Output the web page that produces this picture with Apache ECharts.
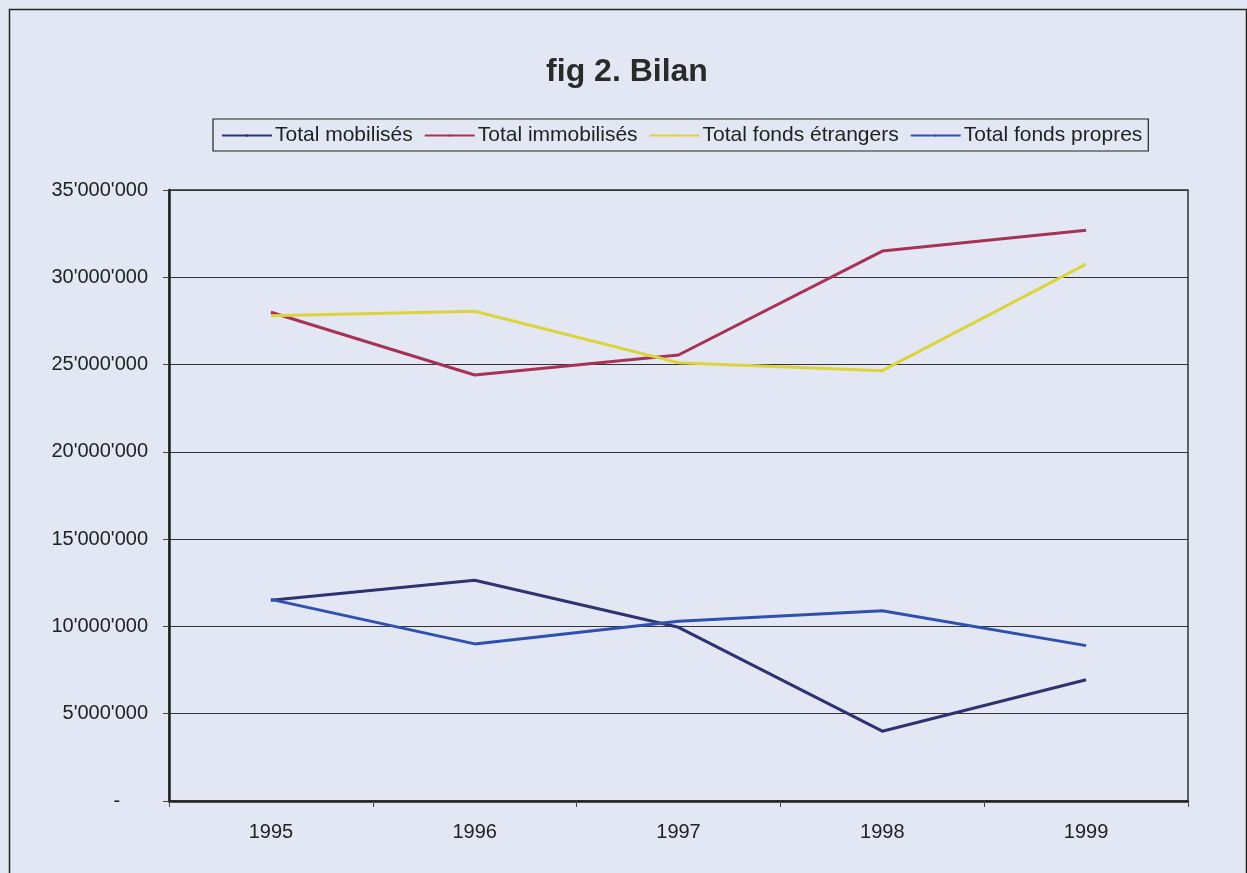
<!DOCTYPE html>
<html>
<head>
<meta charset="utf-8">
<script src="https://cdn.jsdelivr.net/npm/echarts@6/dist/echarts.min.js"></script>
<style>
html,body{margin:0;padding:0;background:#E3E7F3;}
#chart{width:1247px;height:873px;}
</style>
</head>
<body>
<div id="chart"></div>
<script>
var years = ['1995', '1996', '1997', '1998', '1999'];
var totalMobilises = [11500000, 12650000, 9950000, 4000000, 6950000];
var totalImmobilises = [28000000, 24400000, 25550000, 31500000, 32700000];
var totalFondsEtrangers = [27800000, 28050000, 25100000, 24650000, 30750000];
var totalFondsPropres = [11550000, 9000000, 10300000, 10900000, 8900000];
var seriesNames = ['Total mobilisés', 'Total immobilisés', 'Total fonds étrangers', 'Total fonds propres'];
var seriesColors = ['#2E3270', '#A83255', '#DCD43E', '#3050B0'];
var yTicks = { min: 0, max: 35000000, interval: 5000000 };

function fmt(v) {
  if (v === 0) return '-     ';
  return String(v).replace(/\B(?=(\d{3})+(?!\d))/g, "'");
}

var font = "'Liberation Sans', Arial, sans-serif";
var chart = echarts.init(document.getElementById('chart'));
var dataArr = [totalMobilises, totalImmobilises, totalFondsEtrangers, totalFondsPropres];

chart.setOption({
  backgroundColor: '#E3E7F3',
  animation: false,
  title: {
    text: 'fig 2. Bilan',
    left: 622, top: 51, textAlign: 'center',
    textStyle: { fontFamily: font, fontSize: 32, fontWeight: 'bold', color: '#2a2a2a' }
  },
  legend: {
    left: 213, top: 119,
    padding: [6, 6, 5, 8],
    borderColor: '#222', borderWidth: 1.2,
    itemWidth: 50, itemHeight: 3, itemGap: 11,
    textStyle: { fontFamily: font, fontSize: 21, color: '#222', padding: [0, 0, 0, -2] },
    data: seriesNames
  },
  grid: {
    left: 169, right: 59, top: 190, bottom: 72,
    show: true, borderColor: '#333', borderWidth: 1.5, backgroundColor: 'transparent'
  },
  xAxis: {
    type: 'category', data: years, boundaryGap: true,
    axisLine: { lineStyle: { color: '#222', width: 2.5 } },
    axisTick: { show: true, alignWithLabel: false, length: 6, lineStyle: { color: '#444', width: 1 } },
    axisLabel: { fontFamily: font, fontSize: 20, color: '#222', margin: 21 },
    splitLine: { show: false }
  },
  yAxis: {
    type: 'value', min: yTicks.min, max: yTicks.max, interval: yTicks.interval,
    axisLine: { show: true, lineStyle: { color: '#222', width: 2.5 } },
    axisTick: { show: true, length: 6, lineStyle: { color: '#444', width: 1 } },
    axisLabel: { fontFamily: font, fontSize: 20, color: '#222', margin: 21, formatter: fmt },
    splitLine: { show: true, lineStyle: { color: '#333', width: 1.2 } }
  },
  graphic: [{
    type: 'rect', left: 7, top: 7, silent: true,
    shape: { width: 1237, height: 900 },
    style: { fill: 'none', stroke: '#222', lineWidth: 1.5 }
  }],
  series: seriesNames.map(function (n, i) {
    return {
      name: n, type: 'line', data: dataArr[i],
      symbol: 'none', color: seriesColors[i],
      lineStyle: { width: 3, color: seriesColors[i] }
    };
  })
});
</script>
</body>
</html>
